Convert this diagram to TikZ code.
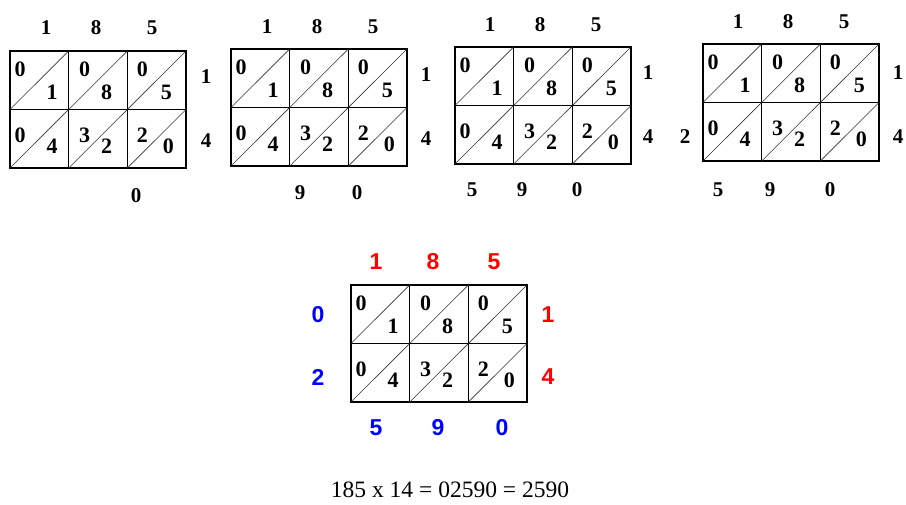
\documentclass[tikz,border=0pt]{standalone}
\usepackage{fontspec}
\setmainfont{Liberation Serif}
\newfontfamily\carryfont{Liberation Sans}
\usepackage{xcolor}
\usetikzlibrary{positioning}

\begin{document}
\begin{tikzpicture}[x=1pt,y=-1pt]
  \tikzstyle{cellnum}=[font=\bfseries\fontsize{22}{22}\selectfont,inner sep=0pt]
  \tikzstyle{sidenum}=[font=\bfseries\fontsize{21}{21}\selectfont,inner sep=0pt]
  \tikzstyle{carry}=[font=\carryfont\bfseries\fontsize{23}{23}\selectfont,inner sep=0pt]
  \tikzstyle{gridline}=[line width=1.4pt]
  \tikzstyle{diag}=[line width=0.6pt,black!80]
  \useasboundingbox (0,0) rectangle (906,504);

  % the five lattices for 185 x 14, same products in every one
  \foreach \gx/\gy/\g in {10/51/1, 231/49/2, 455/47/3, 703/44/4, 351/285/5} {
    \begin{scope}[shift={(\gx,\gy)}]
      \draw[gridline] (0,0) rectangle (176,117);
      \draw[gridline] (0,58.5) -- (176,58.5);
      \draw[gridline] (58.67,0) -- (58.67,117) (117.33,0) -- (117.33,117);
      \foreach \i in {0,1,2}
        \foreach \j in {0,1}
          \draw[diag] ({\i*58.67},{(\j+1)*58.5}) -- ({(\i+1)*58.67},{\j*58.5});
      \foreach \c/\r/\hx/\lx/\hi/\lo in {0/0/10/42/0/1, 1/0/16/38/0/8, 2/0/15/39/0/5,
                                         0/1/10/42/0/4, 1/1/16/38/3/2, 2/1/15/41/2/0} {
        \node[cellnum] (hi-\g-\c\r) at ({\c*58.67+\hx},{18.5+66*\r}) {\hi};
        \node[cellnum] (lo-\g-\c\r) at ({\c*58.67+\lx},{41+54.5*\r}) {\lo};
      }
    \end{scope}
  }

  % factors round the first four
  \foreach \g/\x/\y/\rx/\ry in {1/46/28/206/77, 2/267/27/426/75, 3/490/25/648/73, 4/738/22/898/73} {
    \node[sidenum] (top-\g-a) at (\x,\y) {1};
    \node[sidenum] (top-\g-b) at (\x+50,\y) {8};
    \node[sidenum] (top-\g-c) at (\x+106,\y) {5};
    \node[sidenum] (right-\g-a) at (\rx,\ry) {1};
    \node[sidenum] (right-\g-b) at (\rx,\ry+64) {4};
  }

  % digits of the sum, one more each step
  \node[sidenum] (sum-1-c) at (136,196) {0};
  \node[sidenum] (sum-2-b) at (300,193) {9};
  \node[sidenum] (sum-2-c) at (357,193) {0};
  \node[sidenum] (sum-3-a) at (472,190) {5};
  \node[sidenum] (sum-3-b) at (522,190) {9};
  \node[sidenum] (sum-3-c) at (577,190) {0};
  \node[sidenum] (sum-4-l) at (685,137) {2};
  \node[sidenum] (sum-4-a) at (718,190) {5};
  \node[sidenum] (sum-4-b) at (770,190) {9};
  \node[sidenum] (sum-4-c) at (830,190) {0};

  % finished lattice
  \node[carry,red] (top-5-a) at (376,262) {1};
  \node[carry,red] (top-5-b) at (433,262) {8};
  \node[carry,red] (top-5-c) at (494,262) {5};
  \node[carry,red] (right-5-a) at (548,315) {1};
  \node[carry,red] (right-5-b) at (548,377) {4};
  \node[carry,blue] (sum-5-k) at (318,315) {0};
  \node[carry,blue] (sum-5-l) at (318,377) {2};
  \node[carry,blue] (sum-5-a) at (376,428) {5};
  \node[carry,blue] (sum-5-b) at (438,428) {9};
  \node[carry,blue] (sum-5-c) at (502,428) {0};

  \node[font=\fontsize{23.5}{23.5}\selectfont,inner sep=0pt] (result) at (450,490) {185 x 14 = 02590 = 2590};
\end{tikzpicture}
\end{document}
